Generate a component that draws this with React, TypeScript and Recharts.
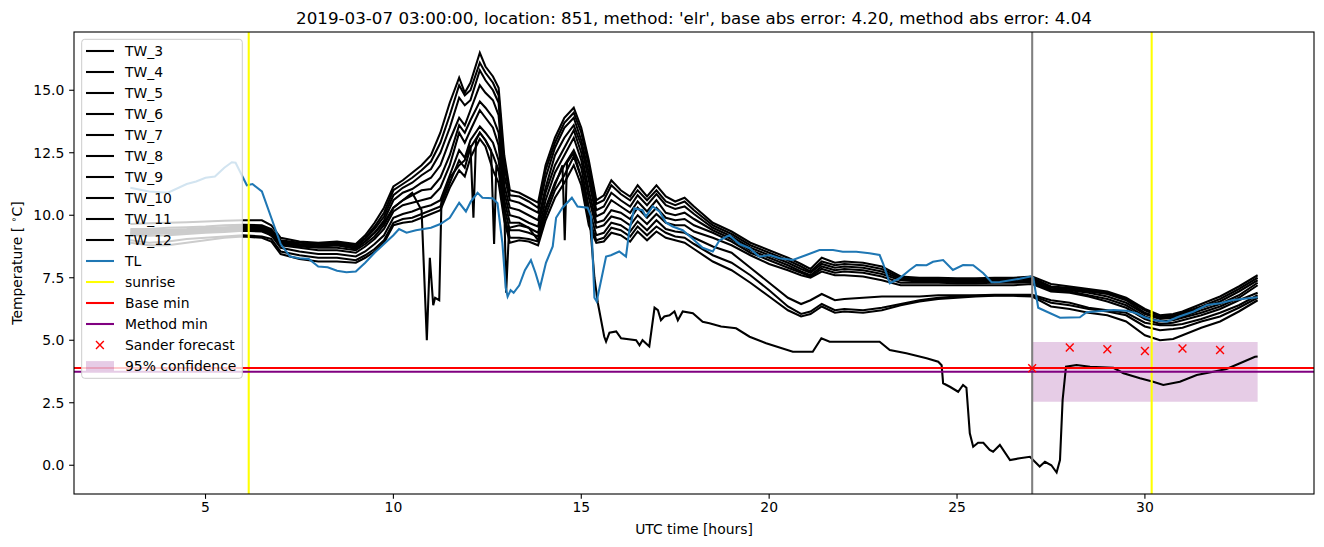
import React from 'react';
import { ComposedChart, Line, XAxis, YAxis, ReferenceLine, ReferenceArea, Scatter } from 'recharts';

const W = 1324;
const H = 547;
const FONT = 'DejaVu Sans';

// ---- water temperature sensors (shared time grid, hours UTC) ----
const twHours = [3, 3.5, 4, 4.5, 5, 5.5, 6, 6.5, 6.75, 7, 7.5, 8, 8.5, 9, 9.25, 9.5, 9.75, 10, 10.25, 10.5, 10.75, 11, 11.25, 11.5, 11.75, 11.9, 12.05, 12.3, 12.45, 12.65, 12.8, 12.95, 13.1, 13.35, 13.6, 13.85, 14.05, 14.3, 14.55, 14.8, 15.0, 15.2, 15.4, 15.6, 15.8, 16.05, 16.3, 16.5, 16.75, 17.0, 17.25, 17.5, 17.75, 18.0, 18.5, 19.0, 19.5, 20.0, 20.5, 20.85, 21.1, 21.4, 21.75, 22.0, 22.5, 23.0, 23.5, 24.0, 24.5, 25.0, 25.5, 26.0, 26.5, 27.0, 27.5, 28.0, 28.5, 29.0, 29.5, 30.0, 30.4, 30.75, 31.0, 31.5, 32.0, 32.5, 33.0];

const tw4 = [9.65, 9.68, 9.7, 9.72, 9.75, 9.78, 9.8, 9.8, 9.6, 9.1, 8.95, 8.9, 8.95, 8.85, 9.2, 9.7, 10.3, 11.15, 11.4, 11.7, 12.0, 12.4, 13.3, 14.5, 15.5, 14.9, 15.3, 16.5, 15.95, 15.55, 15.1, 12.4, 11.0, 10.9, 10.7, 10.5, 12.0, 13.1, 13.9, 14.3, 13.5, 12.2, 10.6, 10.8, 11.4, 11.0, 10.75, 11.2, 10.75, 11.2, 10.75, 10.55, 10.7, 10.35, 9.7, 9.35, 8.9, 8.6, 8.3, 8.05, 7.85, 8.3, 8.1, 8.15, 8.1, 7.95, 7.55, 7.5, 7.5, 7.48, 7.48, 7.5, 7.5, 7.55, 7.25, 7.15, 7.05, 6.95, 6.7, 6.25, 6.0, 6.05, 6.15, 6.45, 6.75, 7.15, 7.6];
const tw5 = [9.45, 9.45, 9.5, 9.52, 9.55, 9.6, 9.62, 9.6, 9.45, 9.0, 8.9, 8.85, 8.9, 8.8, 9.1, 9.55, 10.1, 11.0, 11.25, 11.5, 11.8, 12.15, 12.9, 14.0, 15.2, 14.8, 15.0, 16.1, 15.7, 15.3, 14.8, 12.0, 10.8, 10.75, 10.55, 10.3, 11.8, 12.9, 13.7, 14.1, 13.3, 12.0, 10.45, 10.6, 11.2, 10.85, 10.6, 11.0, 10.6, 11.0, 10.55, 10.4, 10.55, 10.2, 9.6, 9.25, 8.8, 8.5, 8.2, 7.95, 7.75, 8.15, 8.0, 8.05, 8.0, 7.85, 7.5, 7.45, 7.45, 7.43, 7.43, 7.45, 7.45, 7.5, 7.15, 7.1, 7.0, 6.9, 6.65, 6.2, 5.95, 6.0, 6.1, 6.35, 6.65, 7.05, 7.5];
const tw6 = [9.4, 9.4, 9.42, 9.45, 9.5, 9.52, 9.55, 9.55, 9.4, 8.95, 8.85, 8.8, 8.85, 8.75, 9.05, 9.45, 9.95, 10.8, 11.1, 11.3, 11.6, 11.85, 12.5, 13.5, 14.7, 14.4, 14.6, 15.8, 15.4, 15.0, 14.5, 11.6, 10.6, 10.5, 10.3, 10.1, 11.5, 12.7, 13.5, 13.9, 13.0, 11.7, 10.2, 10.35, 10.9, 10.6, 10.35, 10.8, 10.4, 10.85, 10.4, 10.25, 10.35, 10.05, 9.5, 9.15, 8.7, 8.4, 8.1, 7.85, 7.7, 8.05, 7.9, 7.95, 7.9, 7.75, 7.45, 7.4, 7.4, 7.38, 7.38, 7.4, 7.4, 7.45, 7.1, 7.05, 6.95, 6.85, 6.6, 6.1, 5.9, 5.95, 6.05, 6.3, 6.55, 6.95, 7.4];
const tw7 = [9.35, 9.35, 9.38, 9.4, 9.45, 9.48, 9.5, 9.5, 9.35, 8.9, 8.8, 8.75, 8.8, 8.7, 8.95, 9.3, 9.8, 10.6, 10.9, 11.05, 11.3, 11.5, 12.0, 13.0, 13.9, 13.6, 14.2, 15.2, 14.9, 14.6, 14.0, 11.2, 10.3, 10.2, 10.0, 9.8, 11.1, 12.4, 13.1, 13.6, 12.8, 11.4, 9.95, 10.1, 10.6, 10.35, 10.1, 10.55, 10.15, 10.6, 10.1, 10.0, 10.1, 9.85, 9.4, 9.05, 8.6, 8.3, 8.0, 7.75, 7.6, 7.95, 7.8, 7.85, 7.8, 7.65, 7.4, 7.35, 7.35, 7.33, 7.33, 7.35, 7.35, 7.38, 7.05, 7.0, 6.9, 6.75, 6.5, 6.05, 5.85, 5.9, 5.95, 6.2, 6.45, 6.8, 7.3];
const tw8 = [9.3, 9.3, 9.32, 9.35, 9.4, 9.42, 9.45, 9.45, 9.3, 8.85, 8.75, 8.7, 8.7, 8.6, 8.85, 9.15, 9.6, 10.3, 10.6, 10.8, 11.0, 11.05, 11.5, 12.4, 13.6, 13.3, 13.8, 14.55, 14.3, 13.9, 13.3, 10.9, 10.0, 9.9, 9.7, 9.55, 10.9, 12.0, 12.7, 13.4, 12.5, 11.0, 9.7, 9.8, 10.2, 10.1, 9.85, 10.3, 9.9, 10.3, 9.9, 9.8, 9.85, 9.6, 9.3, 8.95, 8.5, 8.2, 7.9, 7.7, 7.55, 7.85, 7.7, 7.75, 7.7, 7.55, 7.3, 7.3, 7.3, 7.28, 7.28, 7.3, 7.3, 7.32, 7.0, 6.95, 6.8, 6.65, 6.4, 5.95, 5.75, 5.8, 5.9, 6.1, 6.35, 6.7, 7.2];
const tw9 = [9.25, 9.25, 9.28, 9.3, 9.35, 9.38, 9.42, 9.4, 9.25, 8.8, 8.7, 8.6, 8.6, 8.5, 8.75, 9.05, 9.45, 10.15, 10.4, 10.5, 10.6, 10.7, 11.1, 12.0, 13.3, 12.9, 13.4, 14.2, 13.9, 13.5, 12.8, 10.6, 9.7, 9.7, 9.5, 9.3, 10.6, 11.7, 12.4, 13.1, 12.2, 10.7, 9.5, 9.6, 9.95, 9.85, 9.6, 10.0, 9.65, 10.05, 9.7, 9.6, 9.6, 9.35, 9.1, 8.8, 8.4, 8.05, 7.8, 7.6, 7.5, 7.75, 7.6, 7.6, 7.55, 7.4, 7.2, 7.2, 7.2, 7.2, 7.2, 7.2, 7.2, 7.25, 6.95, 6.9, 6.75, 6.55, 6.3, 5.85, 5.65, 5.7, 5.8, 6.0, 6.25, 6.6, 6.9];
const tw10 = [9.2, 9.18, 9.2, 9.25, 9.3, 9.33, 9.38, 9.35, 9.2, 8.7, 8.55, 8.45, 8.45, 8.35, 8.55, 8.85, 9.2, 9.9, 10.05, 10.15, 10.3, 10.4, 10.6, 11.6, 12.6, 12.3, 13.0, 13.55, 13.3, 12.9, 12.2, 10.3, 9.4, 9.4, 9.3, 9.15, 10.3, 11.3, 12.0, 12.6, 11.9, 10.3, 9.2, 9.3, 9.7, 9.6, 9.35, 9.75, 9.4, 9.8, 9.45, 9.35, 9.3, 9.1, 8.75, 8.5, 7.9, 7.3, 6.7, 6.45, 6.6, 6.85, 6.6, 6.65, 6.7, 6.75, 6.75, 6.75, 6.8, 6.8, 6.8, 6.82, 6.82, 6.82, 6.6, 6.5, 6.3, 6.2, 6.1, 5.7, 5.6, 5.6, 5.65, 5.85, 6.1, 6.4, 6.8];
const tw11 = [9.0, 8.9, 8.95, 9.05, 9.1, 9.15, 9.2, 9.15, 9.05, 8.55, 8.4, 8.3, 8.3, 8.2, 8.4, 8.65, 9.0, 9.7, 9.85, 9.9, 10.05, 10.2, 10.35, 11.3, 12.2, 11.9, 12.7, 13.3, 13.0, 12.4, 11.8, 10.0, 9.1, 9.1, 9.05, 8.95, 10.0, 11.0, 11.6, 12.35, 11.5, 9.9, 9.0, 9.1, 9.5, 9.4, 9.15, 9.55, 9.2, 9.55, 9.3, 9.15, 9.1, 8.85, 8.4, 8.1, 7.6, 7.0, 6.35, 6.05, 6.15, 6.45, 6.2, 6.25, 6.2, 6.3, 6.45, 6.6, 6.7, 6.75, 6.78, 6.8, 6.8, 6.78, 6.5, 6.4, 6.25, 6.15, 6.0, 5.55, 5.4, 5.45, 5.5, 5.75, 5.95, 6.3, 6.7];
const tw12 = [8.9, 8.8, 8.8, 8.9, 9.0, 9.1, 9.15, 9.1, 8.95, 8.45, 8.25, 8.15, 8.15, 8.1, 8.3, 8.55, 8.9, 9.6, 9.7, 9.75, 9.9, 10.05, 10.2, 11.1, 11.8, 11.55, 12.3, 13.05, 12.75, 11.8, 11.3, 9.8, 8.9, 9.0, 8.95, 8.8, 9.8, 10.7, 11.3, 12.0, 11.2, 9.6, 8.9, 8.95, 9.3, 9.2, 8.95, 9.35, 9.0, 9.35, 9.1, 9.0, 8.9, 8.65, 8.15, 7.8, 7.3, 6.75, 6.2, 5.95, 6.05, 6.35, 6.1, 6.15, 6.1, 6.2, 6.4, 6.55, 6.65, 6.7, 6.75, 6.78, 6.78, 6.75, 6.35, 6.25, 6.1, 6.0, 5.75, 5.2, 5.0, 5.05, 5.2, 5.5, 5.75, 6.15, 6.6];

// the faulty shallow sensor has its own sampling
const tw3Hours = [3, 4, 5, 6, 6.5, 7, 7.5, 8, 8.5, 9, 9.25, 9.5, 9.75, 10, 10.25, 10.5, 10.75, 10.89, 10.97, 11.06, 11.11, 11.22, 11.28, 11.5, 11.75, 11.9, 12.05, 12.13, 12.2, 12.3, 12.45, 12.6, 12.68, 12.74, 12.85, 12.95, 13.0, 13.08, 13.35, 13.6, 13.85, 14.05, 14.3, 14.5, 14.56, 14.62, 14.8, 15.0, 15.2, 15.35, 15.44, 15.61, 15.66, 15.75, 15.93, 16.06, 16.46, 16.55, 16.63, 16.81, 16.95, 17.04, 17.12, 17.21, 17.35, 17.48, 17.57, 17.7, 17.97, 18.23, 18.41, 18.72, 19.12, 19.48, 19.92, 20.63, 21.16, 21.39, 21.61, 22.94, 23.21, 23.65, 24.19, 24.5, 24.59, 24.63, 24.81, 25.03, 25.16, 25.25, 25.34, 25.43, 25.56, 25.7, 25.87, 25.96, 26.14, 26.41, 26.67, 26.94, 27.2, 27.34, 27.51, 27.65, 27.74, 27.81, 27.9, 28.18, 28.54, 29.16, 29.43, 29.87, 30.22, 30.49, 30.93, 31.38, 31.82, 32.17, 32.53, 32.93, 33];
const tw3 = [9.3, 9.35, 9.42, 9.48, 9.45, 8.9, 8.8, 8.75, 8.8, 8.65, 8.95, 9.3, 9.7, 10.3, 10.6, 10.9, 10.2, 5.0, 8.3, 6.4, 6.7, 6.6, 10.6, 11.5, 12.0, 12.2, 12.8, 9.9, 13.0, 13.3, 13.0, 12.6, 8.85, 12.0, 11.6, 10.5, 6.9, 9.5, 9.6, 9.5, 9.0, 10.2, 11.2, 12.0, 9.0, 12.1, 12.5, 11.5, 10.3, 7.5, 6.5, 5.15, 4.95, 5.3, 5.35, 5.08, 5.0, 4.8, 5.0, 4.75, 6.3, 6.2, 5.8, 5.95, 6.0, 6.15, 5.8, 6.15, 6.08, 5.74, 5.68, 5.55, 5.48, 5.14, 4.88, 4.54, 4.54, 5.08, 4.94, 4.94, 4.61, 4.48, 4.28, 4.14, 4.0, 3.28, 3.14, 2.94, 3.21, 3.1, 1.28, 0.74, 0.9, 0.9, 0.61, 0.54, 0.81, 0.21, 0.28, 0.34, -0.05, 0.14, 0.0, -0.29, 0.21, 2.61, 3.94, 4.01, 3.94, 3.9, 3.68, 3.48, 3.34, 3.21, 3.34, 3.61, 3.74, 3.85, 4.08, 4.34, 4.35];

// ---- air temperature TL ----
const tlHours = [3.0, 3.5, 4.0, 4.5, 4.75, 5.0, 5.25, 5.5, 5.7, 5.8, 6.0, 6.1, 6.25, 6.5, 6.75, 7.0, 7.25, 7.5, 7.75, 8.0, 8.25, 8.5, 8.75, 9.0, 9.25, 9.5, 9.75, 10.0, 10.15, 10.35, 10.6, 11.0, 11.25, 11.5, 11.75, 11.93, 12.06, 12.24, 12.37, 12.64, 12.77, 12.9, 12.99, 13.04, 13.12, 13.2, 13.35, 13.5, 13.66, 13.78, 13.9, 14.06, 14.24, 14.33, 14.5, 14.75, 14.9, 15.17, 15.26, 15.35, 15.41, 15.66, 15.79, 16.01, 16.19, 16.28, 16.41, 16.63, 16.72, 16.9, 17.08, 17.26, 17.43, 17.7, 17.97, 18.23, 18.5, 18.68, 18.94, 19.21, 19.48, 19.74, 20.01, 20.28, 20.63, 20.99, 21.34, 21.7, 21.96, 22.32, 22.67, 22.94, 23.03, 23.21, 23.47, 23.74, 23.92, 24.19, 24.36, 24.63, 24.89, 25.16, 25.43, 25.7, 25.92, 26.14, 26.67, 26.98, 27.03, 27.16, 27.29, 27.74, 28.27, 28.45, 29.16, 29.51, 29.78, 29.96, 30.22, 30.58, 30.9, 31.3, 31.65, 32.0, 32.35, 33.0];
const tl = [11.1, 10.95, 10.9, 11.25, 11.35, 11.5, 11.55, 11.9, 12.12, 12.1, 11.5, 11.2, 11.25, 10.95, 9.9, 8.85, 8.35, 8.28, 8.25, 7.95, 7.92, 7.78, 7.72, 7.75, 8.1, 8.5, 8.85, 9.2, 9.45, 9.3, 9.4, 9.5, 9.65, 9.9, 10.5, 10.15, 10.55, 10.9, 10.7, 10.68, 10.48, 8.9, 7.1, 6.75, 7.0, 6.9, 7.2, 7.8, 8.2, 7.7, 7.1, 8.1, 8.75, 9.9, 10.3, 10.7, 10.35, 10.3, 9.95, 6.7, 6.55, 8.35, 8.4, 8.55, 8.35, 9.4, 10.28, 10.2, 9.95, 10.35, 10.15, 9.7, 9.55, 9.4, 9.05, 8.7, 8.55, 9.0, 9.2, 8.85, 8.68, 8.34, 8.41, 8.28, 8.21, 8.41, 8.61, 8.61, 8.54, 8.54, 8.48, 8.41, 8.08, 7.28, 7.48, 7.81, 8.01, 8.0, 8.14, 8.21, 7.81, 8.01, 8.0, 7.68, 7.32, 7.33, 7.46, 7.56, 7.5, 6.3, 6.21, 5.9, 5.92, 6.12, 6.21, 6.18, 6.08, 5.94, 5.81, 5.74, 5.94, 6.15, 6.41, 6.48, 6.61, 6.72];

// ---- annotations ----
const sunriseHours = [6.15, 30.18];
const forecastStart = 27;
const baseMin = 3.89;
const methodMin = 3.74;
const forecastHours = [27, 28, 29, 30, 31, 32];
const forecastValues = [3.88, 4.71, 4.64, 4.57, 4.67, 4.61];
const confidenceHours = [27, 33];
const confidenceBand = [2.54, 4.93];

const xTicks = [5, 10, 15, 20, 25, 30];
const yTicks = [0, 2.5, 5, 7.5, 10, 12.5, 15];
const twNames = ['TW_3', 'TW_4', 'TW_5', 'TW_6', 'TW_7', 'TW_8', 'TW_9', 'TW_10', 'TW_11', 'TW_12'];
const title = "2019-03-07 03:00:00, location: 851, method: 'elr', base abs error: 4.20, method abs error: 4.04";

const toPoints = (hours: number[], values: number[]) => hours.map((t, i) => ({ t, v: values[i] }));

const twSeries = [
  toPoints(tw3Hours, tw3),
  toPoints(twHours, tw4),
  toPoints(twHours, tw5),
  toPoints(twHours, tw6),
  toPoints(twHours, tw7),
  toPoints(twHours, tw8),
  toPoints(twHours, tw9),
  toPoints(twHours, tw10),
  toPoints(twHours, tw11),
  toPoints(twHours, tw12),
];
const tlData = toPoints(tlHours, tl);
const forecastData = toPoints(forecastHours, forecastValues);

const LW = 2.08;
const BLUE = '#1f77b4';

const XMark = (props: any) => {
  const { cx, cy } = props;
  if (cx == null || cy == null) return null;
  const s = 3.9;
  return (
    <g>
      <line x1={cx - s} y1={cy - s} x2={cx + s} y2={cy + s} stroke="#ff0000" strokeWidth={1.4} />
      <line x1={cx - s} y1={cy + s} x2={cx + s} y2={cy - s} stroke="#ff0000" strokeWidth={1.4} />
    </g>
  );
};

type LegendItem = { label: string; kind: 'line' | 'x' | 'patch'; color: string };
const legendItems: LegendItem[] = [
  ...twNames.map((n) => ({ label: n, kind: 'line' as const, color: '#000000' })),
  { label: 'TL', kind: 'line', color: BLUE },
  { label: 'sunrise', kind: 'line', color: '#ffff00' },
  { label: 'Base min', kind: 'line', color: '#ff0000' },
  { label: 'Method min', kind: 'line', color: '#800080' },
  { label: 'Sander forecast', kind: 'x', color: '#ff0000' },
  { label: '95% confidence', kind: 'patch', color: '#800080' },
];

export default function App() {
  const tickStyle = { fontSize: 13.9, fill: '#000', fontFamily: FONT };
  return (
    <div style={{ position: 'absolute', left: 0, top: 0, width: W, height: H, background: '#fff', fontFamily: FONT }}>
      <ComposedChart width={W} height={H} margin={{ top: 32, right: 10, bottom: 0, left: 0 }}>
        <XAxis
          dataKey="t"
          type="number"
          domain={[1.5, 34.5]}
          allowDataOverflow
          ticks={xTicks}
          interval={0}
          height={53}
          axisLine={false}
          stroke="#000"
          tickLine={{ stroke: '#000', strokeWidth: 1.1 }}
          tickSize={4.86}
          tickMargin={3.2}
          tick={tickStyle}
        />
        <YAxis
          type="number"
          domain={[-1.15, 17.33]}
          allowDataOverflow
          ticks={yTicks}
          interval={0}
          width={74}
          axisLine={false}
          stroke="#000"
          tickLine={{ stroke: '#000', strokeWidth: 1.1 }}
          tickSize={4.86}
          tickMargin={4.86}
          tick={tickStyle}
          tickFormatter={(v: number) => v.toFixed(1)}
        />
        {twSeries.map((d, i) => (
          <Line
            key={twNames[i]}
            data={d}
            dataKey="v"
            type="linear"
            stroke="#000"
            strokeWidth={LW}
            dot={false}
            activeDot={false}
            isAnimationActive={false}
          />
        ))}
        <Line data={tlData} dataKey="v" type="linear" stroke={BLUE} strokeWidth={LW} dot={false} activeDot={false} isAnimationActive={false} />
        <ReferenceLine x={sunriseHours[0]} stroke="#ffff00" strokeWidth={LW} />
        <ReferenceLine x={forecastStart} stroke="#808080" strokeWidth={LW} />
        <ReferenceLine x={sunriseHours[1]} stroke="#ffff00" strokeWidth={LW} />
        <ReferenceLine y={baseMin} stroke="#ff0000" strokeWidth={LW} />
        <ReferenceLine y={methodMin} stroke="#800080" strokeWidth={LW} />
        <Scatter data={forecastData} dataKey="v" shape={XMark} isAnimationActive={false} />
        <ReferenceArea
          x1={confidenceHours[0]}
          x2={confidenceHours[1]}
          y1={confidenceBand[0]}
          y2={confidenceBand[1]}
          fill="#800080"
          fillOpacity={0.2}
          stroke="none"
        />
      </ComposedChart>
      <svg width={W} height={H} style={{ position: 'absolute', left: 0, top: 0, pointerEvents: 'none' }} fontFamily={FONT}>
        <rect x={74} y={32} width={1240} height={462} fill="none" stroke="#000" strokeWidth={1.1} />
        <text x={694} y={24} textAnchor="middle" fontSize={16.7} fill="#000">{title}</text>
        <text x={694} y={534} textAnchor="middle" fontSize={13.9} fill="#000">UTC time [hours]</text>
        <text transform="translate(22,263) rotate(-90)" textAnchor="middle" fontSize={13.9} fill="#000">
          Temperature [ <tspan dy={-5} fontSize={9.7}>∘</tspan><tspan dy={5}>C]</tspan>
        </text>
        <rect x={81.7} y={39.3} width={160.6} height={339} rx={3} fill="#ffffff" fillOpacity={0.8} stroke="#cccccc" strokeWidth={1} />
        {legendItems.map((it, i) => {
          const cy = 51 + 21 * i;
          return (
            <g key={it.label}>
              {it.kind === 'line' && <line x1={86} x2={114} y1={cy} y2={cy} stroke={it.color} strokeWidth={LW} />}
              {it.kind === 'x' && (
                <g>
                  <line x1={96} y1={cy - 3.9} x2={103.8} y2={cy + 3.9} stroke={it.color} strokeWidth={1.4} />
                  <line x1={96} y1={cy + 3.9} x2={103.8} y2={cy - 3.9} stroke={it.color} strokeWidth={1.4} />
                </g>
              )}
              {it.kind === 'patch' && <rect x={86} y={cy - 4.9} width={28} height={9.7} fill={it.color} fillOpacity={0.2} />}
              <text x={125} y={cy + 5} fontSize={13.9} fill="#000">{it.label}</text>
            </g>
          );
        })}
      </svg>
    </div>
  );
}
